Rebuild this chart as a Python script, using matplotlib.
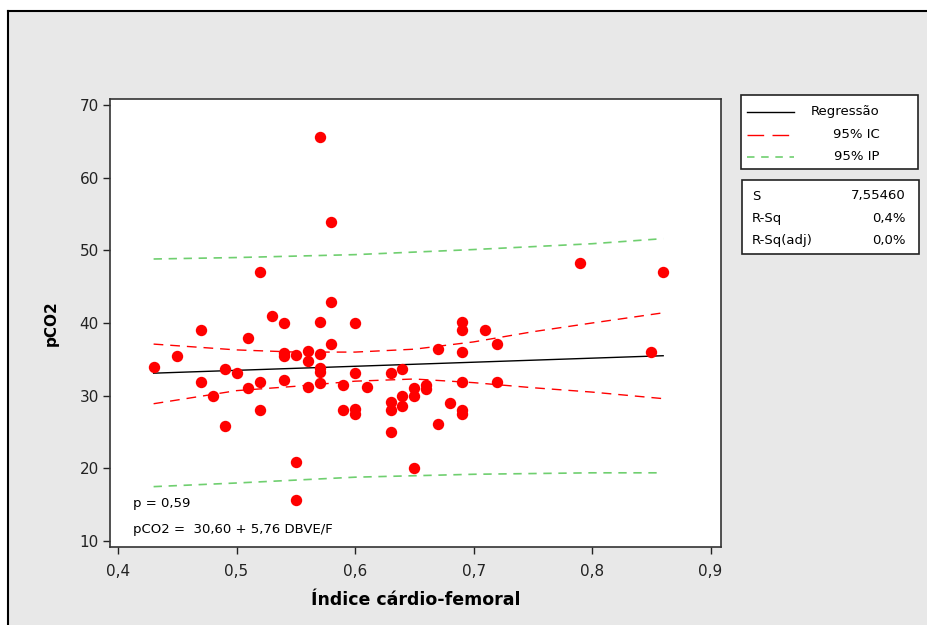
import matplotlib
matplotlib.use("Agg")
from matplotlib import pyplot as plt
from matplotlib.patches import Rectangle
from matplotlib.lines import Line2D

# Scatter data
icf = [0.43, 0.45, 0.47, 0.47, 0.48, 0.49, 0.49, 0.50, 0.51, 0.51,
       0.52, 0.52, 0.52, 0.53, 0.54, 0.54, 0.54, 0.54, 0.55, 0.55,
       0.55, 0.56, 0.56, 0.56, 0.57, 0.57, 0.57, 0.57, 0.57, 0.57,
       0.58, 0.58, 0.58, 0.59, 0.59, 0.60, 0.60, 0.60, 0.60, 0.61,
       0.63, 0.63, 0.63, 0.63, 0.64, 0.64, 0.64, 0.65, 0.65, 0.65,
       0.66, 0.66, 0.67, 0.67, 0.68, 0.69, 0.69, 0.69, 0.69, 0.69,
       0.69, 0.71, 0.72, 0.72, 0.79, 0.85, 0.86]
pco2 = [34.0, 35.5, 39.1, 31.9, 29.9, 33.7, 25.8, 33.1, 38.0, 31.0,
        31.9, 28.1, 47.0, 40.9, 40.0, 35.9, 35.5, 32.2, 35.6, 20.9,
        15.7, 36.1, 34.8, 31.2, 65.6, 40.2, 35.8, 33.8, 33.2, 31.7,
        53.9, 42.9, 37.1, 31.5, 28.1, 40.0, 33.1, 28.2, 27.5, 31.2,
        33.1, 29.1, 28.1, 25.0, 33.7, 29.9, 28.6, 31.0, 29.9, 20.1,
        31.5, 30.9, 36.4, 26.1, 29.0, 40.2, 39.1, 36.0, 31.9, 28.1,
        27.5, 39.1, 37.1, 31.9, 48.3, 36.0, 47.0]

# Regression line, confidence and prediction bands
fit_x = [0.43, 0.86]
fit_y = [33.1, 35.5]
ci_x = [0.43, 0.50, 0.55, 0.60, 0.65, 0.70, 0.75, 0.80, 0.86]
ci_upper = [37.1, 36.3, 36.0, 36.0, 36.4, 37.4, 38.8, 40.0, 41.4]
ci_lower = [28.9, 30.7, 31.3, 32.0, 32.3, 31.8, 31.1, 30.5, 29.6]
pi_x = [0.43, 0.50, 0.60, 0.70, 0.80, 0.86]
pi_upper = [48.8, 49.0, 49.4, 50.1, 50.9, 51.6]
pi_lower = [17.5, 18.0, 18.8, 19.2, 19.4, 19.4]

xticks = [0.4, 0.5, 0.6, 0.7, 0.8, 0.9]
xtick_labels = ["0,4", "0,5", "0,6", "0,7", "0,8", "0,9"]
yticks = [10, 20, 30, 40, 50, 60, 70]

legend_labels = ["Regressão", "95% IC", "95% IP"]
stats_names = ["S", "R-Sq", "R-Sq(adj)"]
stats_values = ["7,55460", "0,4%", "0,0%"]

W, H = 927, 625
fig = plt.figure(figsize=(W / 100, H / 100), dpi=100, facecolor="white")

def fx(px):
    return px / W

def fy(py):
    return 1 - py / H

# grey panel with black top/left border
fig.patches.append(Rectangle((fx(8), 0), 1, fy(11), transform=fig.transFigure,
                             facecolor="#e8e8e8", edgecolor="none", zorder=-10))
fig.lines.append(Line2D([fx(8), 1], [fy(11), fy(11)], transform=fig.transFigure,
                        color="black", lw=1.5, zorder=-9))
fig.lines.append(Line2D([fx(8), fx(8)], [fy(11), 0], transform=fig.transFigure,
                        color="black", lw=1.5, zorder=-9))

ax = fig.add_axes([fx(110), fy(547), fx(721) - fx(110), fy(99) - fy(547)])
ax.set_facecolor("white")
ax.set_zorder(1)

red = "#ff0000"
green = "#6fcf6f"
ax.plot(pi_x, pi_upper, color=green, lw=1.2, dashes=(5, 4))
ax.plot(pi_x, pi_lower, color=green, lw=1.2, dashes=(5, 4))
ax.plot(ci_x, ci_upper, color=red, lw=1.0, dashes=(7, 5))
ax.plot(ci_x, ci_lower, color=red, lw=1.0, dashes=(7, 5))
ax.plot(fit_x, fit_y, color="black", lw=1.0)
ax.plot(icf, pco2, "o", color=red, ms=8.2, mew=0, zorder=5)

ax.set_xlim(0.3932, 0.9088)
ax.set_ylim(9.2, 70.8)
ax.set_xticks(xticks)
ax.set_xticklabels(xtick_labels)
ax.set_yticks(yticks)
ax.tick_params(direction="out", length=5, width=1, labelsize=11,
               colors="#222222")
ax.tick_params(axis="x", pad=7)
ax.tick_params(axis="y", pad=3)
for s in ax.spines.values():
    s.set_linewidth(1.2)
    s.set_color("#333333")

ax.set_xlabel("Índice cárdio-femoral", fontsize=12.5, fontweight="bold", labelpad=9)
ax.set_ylabel("pCO2", fontsize=11, fontweight="bold", labelpad=15)

ax.text(0.038, 0.098, "p = 0,59", transform=ax.transAxes, fontsize=9.5, va="center")
ax.text(0.038, 0.040, "pCO2 =  30,60 + 5,76 DBVE/F", transform=ax.transAxes,
        fontsize=9.5, va="center")

# legend box
fig.patches.append(Rectangle((fx(741), fy(169)), fx(918) - fx(741), fy(95) - fy(169),
                             transform=fig.transFigure, facecolor="white",
                             edgecolor="#222222", lw=1.2, zorder=2))
styles = [dict(color="black", lw=1.0),
          dict(color=red, lw=1.0, dashes=(12, 6)),
          dict(color=green, lw=1.2, dashes=(4.5, 4))]
for i, (lab, st) in enumerate(zip(legend_labels, styles)):
    yy = fy(112 + i * 22.5)
    fig.lines.append(Line2D([fx(747), fx(794)], [yy, yy], transform=fig.transFigure,
                            zorder=3, **st))
    fig.text(fx(880), yy, lab, ha="right", va="center", fontsize=9.5, zorder=3)

# statistics box
fig.patches.append(Rectangle((fx(742), fy(254)), fx(919) - fx(742), fy(180) - fy(254),
                             transform=fig.transFigure, facecolor="white",
                             edgecolor="#222222", lw=1.2, zorder=2))
for i, (nm, val) in enumerate(zip(stats_names, stats_values)):
    yy = fy(196 + i * 22.5)
    fig.text(fx(752), yy, nm, ha="left", va="center", fontsize=9.5, zorder=3)
    fig.text(fx(906), yy, val, ha="right", va="center", fontsize=9.5, zorder=3)

fig.savefig("out.png", dpi=100, facecolor="white")
